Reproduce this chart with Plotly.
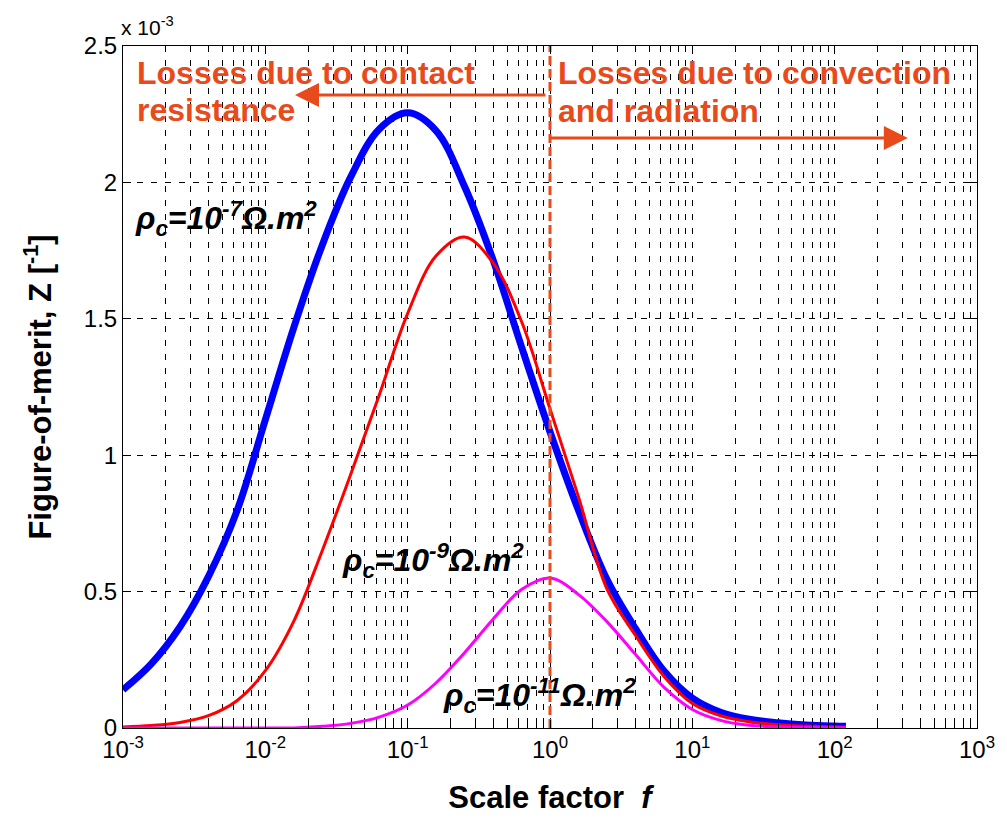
import plotly.graph_objects as go

# Scale factor f (log-spaced samples, 0.2 decade apart)
f = [0.001, 0.00158, 0.00251, 0.00398, 0.00631, 0.01, 0.0158, 0.0251, 0.0398, 0.0631,
     0.1, 0.158, 0.251, 0.398, 0.631, 1.0, 1.58, 2.51, 3.98, 6.31,
     10.0, 15.8, 25.1, 39.8, 63.1, 100.0, 120.0]

# Figure-of-merit Z, in units of 1e-3
z_rho7 = [0.14, 0.235, 0.37, 0.555, 0.795, 1.13, 1.466, 1.77, 2.02, 2.195,
          2.255, 2.19, 1.985, 1.716, 1.397, 1.086, 0.80, 0.545, 0.365, 0.21,
          0.11, 0.058, 0.032, 0.019, 0.011, 0.007, 0.006]
z_rho9 = [0.004, 0.009, 0.02, 0.045, 0.10, 0.21, 0.39, 0.65, 0.93, 1.22,
          1.52, 1.73, 1.80, 1.705, 1.49, 1.17, 0.85, 0.51, 0.34, 0.19,
          0.09, 0.045, 0.023, 0.012, 0.007, 0.004, 0.004]
z_rho11 = [0.0, 0.0, 0.0, 0.0, 0.0, 0.0, 0.0, 0.006, 0.017, 0.04,
           0.084, 0.165, 0.276, 0.399, 0.508, 0.55, 0.49, 0.39, 0.27, 0.15,
           0.068, 0.028, 0.01, 0.005, 0.002, 0.001, 0.001]

boundary_f = [1.0, 1.0]
boundary_z = [0.0, 2.5]

x_tickvals = [1e-3, 1e-2, 1e-1, 1e0, 1e1, 1e2, 1e3]
x_ticktext = ["10<sup>-3</sup>", "10<sup>-2</sup>", "10<sup>-1</sup>", "10<sup>0</sup>",
              "10<sup>1</sup>", "10<sup>2</sup>", "10<sup>3</sup>"]
y_tickvals = [0, 0.5, 1, 1.5, 2, 2.5]
y_ticktext = ["0", "0.5", "1", "1.5", "2", "2.5"]

ORANGE = "#E84A1B"
FONT = "Liberation Sans, Arial, sans-serif"

# plot-area pixel geometry (for placing text decorations)
L, R, T, B = 123, 987, 46, 728
W, H = R - L, B - T


def px(xp):
    return (xp - L) / W


def py(yp):
    return (B - yp) / H


fig = go.Figure()
fig.add_trace(go.Scatter(x=f, y=z_rho7, mode="lines", line=dict(color="#0000FF", width=7, shape="spline")))
fig.add_trace(go.Scatter(x=f, y=z_rho9, mode="lines", line=dict(color="#FF0000", width=3, shape="spline")))
fig.add_trace(go.Scatter(x=f, y=z_rho11, mode="lines", line=dict(color="#FF00FF", width=3, shape="spline")))
fig.add_trace(go.Scatter(x=boundary_f, y=boundary_z, mode="lines",
                         line=dict(color=ORANGE, width=3, dash="9px,4px")))

GRID_DASH = "6px,8px"
axis_common = dict(showline=True, linecolor="black", linewidth=1, mirror="ticks",
                   ticks="inside", ticklen=8, tickcolor="black",
                   showgrid=True, gridcolor="black", gridwidth=1, griddash=GRID_DASH,
                   zeroline=False, tickfont=dict(family=FONT, size=24, color="black"))

fig.update_xaxes(type="log", range=[-3, 3], tickvals=x_tickvals, ticktext=x_ticktext,
                 minor=dict(dtick="D1", ticks="inside", ticklen=4, tickcolor="black", showgrid=True,
                            gridcolor="black", gridwidth=1, griddash=GRID_DASH),
                 title=dict(text="<b>Scale factor  <i>f</i></b>",
                            font=dict(family=FONT, size=31, color="black"), standoff=24),
                 **axis_common)
fig.update_yaxes(range=[0, 2.5], tickvals=y_tickvals, ticktext=y_ticktext,
                 title=dict(text="<b>Figure-of-merit, Z [<sup>-1</sup>]</b>",
                            font=dict(family=FONT, size=31, color="black"), standoff=22),
                 **axis_common)

TXT = dict(family=FONT, size=32, color=ORANGE)
LBL = dict(family=FONT, size=32, color="black")

annotations = [
    dict(text="x 10<sup>-3</sup>", xref="paper", yref="paper", x=px(119), y=py(26),
         xanchor="left", yanchor="middle", showarrow=False,
         font=dict(family=FONT, size=21, color="black")),
    dict(text="<b>Losses due to contact</b>", xref="paper", yref="paper",
         x=px(135), y=py(73), xanchor="left", yanchor="middle", showarrow=False, font=TXT),
    dict(text="<b>resistance</b>", xref="paper", yref="paper",
         x=px(135), y=py(110), xanchor="left", yanchor="middle", showarrow=False, font=TXT),
    dict(text="<b>Losses due to convection</b>", xref="paper", yref="paper",
         x=px(561), y=py(73), xanchor="left", yanchor="middle", showarrow=False, font=TXT),
    dict(text="<b>and radiation</b>", xref="paper", yref="paper",
         x=px(561), y=py(111), xanchor="left", yanchor="middle", showarrow=False, font=TXT),
    # left arrow
    dict(text="", xref="paper", yref="paper", x=px(297), y=py(95),
         ax=252, ay=0, showarrow=True, arrowhead=2, arrowsize=1.6, arrowwidth=3,
         arrowcolor=ORANGE),
    # right arrow
    dict(text="", xref="paper", yref="paper", x=px(917), y=py(138),
         ax=-359, ay=0, showarrow=True, arrowhead=2, arrowsize=1.6, arrowwidth=3,
         arrowcolor=ORANGE),
    dict(text="<b><i>ρ<sub>c</sub>=10<sup>-7</sup>Ω.m<sup>2</sup></i></b>", xref="paper", yref="paper",
         x=px(133), y=py(218), xanchor="left", yanchor="middle", showarrow=False, font=LBL),
    dict(text="<b><i>ρ<sub>c</sub>=10<sup>-9</sup>Ω.m<sup>2</sup></i></b>", xref="paper", yref="paper",
         x=px(343), y=py(560), xanchor="left", yanchor="middle", showarrow=False, font=LBL),
    dict(text="<b><i>ρ<sub>c</sub>=10<sup>-11</sup>Ω.m<sup>2</sup></i></b>", xref="paper", yref="paper",
         x=px(445), y=py(695), xanchor="left", yanchor="middle", showarrow=False, font=LBL),
]

fig.update_layout(width=1007, height=820, margin=dict(l=L, r=1007 - R, t=T, b=820 - B),
                  paper_bgcolor="white", plot_bgcolor="white", showlegend=False,
                  annotations=annotations, font=dict(family=FONT, color="black"))

fig.write_html("out.html")
